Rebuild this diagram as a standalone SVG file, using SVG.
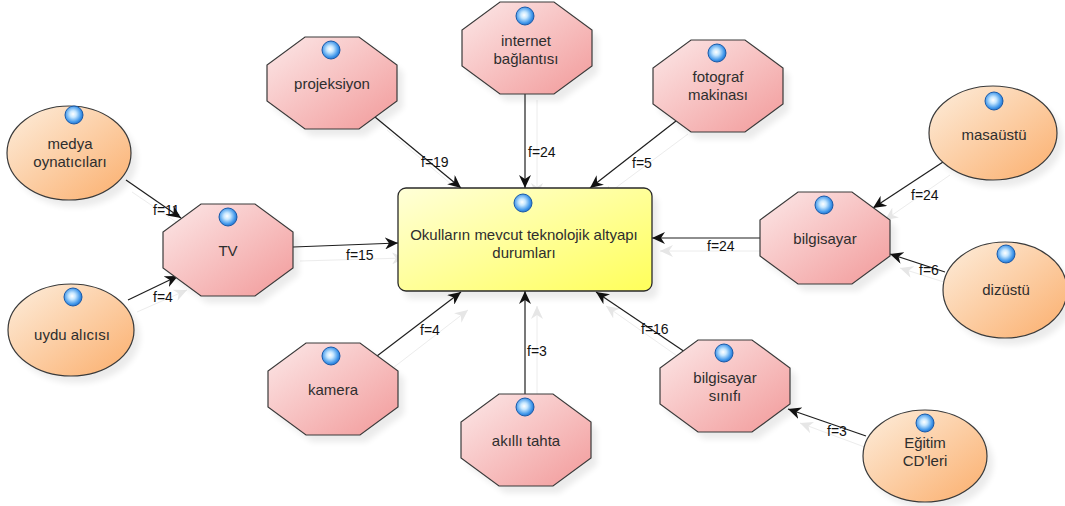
<svg xmlns="http://www.w3.org/2000/svg" width="1065" height="506" viewBox="0 0 1065 506">
  <style>
    .oct { fill: url(#gOct); stroke: #3a3a3a; stroke-width: 1.2; }
    .ell { fill: url(#gEll); stroke: #3a3a3a; stroke-width: 1.2; }
    .main { fill: url(#gMain); stroke: #2a2a2a; stroke-width: 1.3; }
    .sh { fill: #000; opacity: 0.08; filter: url(#blur); }
    .t { font-family: "Liberation Sans", Arial, sans-serif; font-size: 15px; fill: #2e2e2e; text-anchor: middle; }
    .lbl { font-family: "Liberation Sans", Arial, sans-serif; font-size: 14px; fill: #111; }
    .edge { stroke: #1e1e1e; stroke-width: 1.2; fill: none; marker-end: url(#arr); }
    .eshadow { stroke: #ececec; stroke-width: 1; fill: none; marker-end: url(#arrS); }
  </style>
  <defs>
    <linearGradient id="gOct" x1="0" y1="0" x2="1" y2="1">
      <stop offset="0" stop-color="#fce8e8"/>
      <stop offset="1" stop-color="#f29a9a"/>
    </linearGradient>
    <linearGradient id="gEll" x1="0" y1="0" x2="1" y2="1">
      <stop offset="0" stop-color="#fdeedd"/>
      <stop offset="1" stop-color="#fbae6c"/>
    </linearGradient>
    <linearGradient id="gMain" x1="0" y1="0" x2="1" y2="1">
      <stop offset="0" stop-color="#ffffd8"/>
      <stop offset="1" stop-color="#ffff5a"/>
    </linearGradient>
    <radialGradient id="gBall" cx="0.45" cy="0.45" r="0.6">
      <stop offset="0" stop-color="#ffffff"/>
      <stop offset="0.3" stop-color="#c8e8ff"/>
      <stop offset="0.75" stop-color="#3f96ea"/>
      <stop offset="1" stop-color="#1c66c2"/>
    </radialGradient>
    <filter id="blur" x="-20%" y="-20%" width="140%" height="140%">
      <feGaussianBlur stdDeviation="3"/>
    </filter>
    <marker id="arr" markerUnits="userSpaceOnUse" markerWidth="14" markerHeight="12" refX="13" refY="6" orient="auto">
      <path d="M0,0 L13,6 L0,12 L4,6 Z" fill="#111"/>
    </marker>
    <marker id="arrS" markerUnits="userSpaceOnUse" markerWidth="14" markerHeight="12" refX="13" refY="6" orient="auto">
      <path d="M0,0 L13,6 L0,12 L4,6 Z" fill="#e6e6e6"/>
    </marker>
    <circle id="ball" r="9" fill="url(#gBall)" stroke="#1a5aa8" stroke-width="1"/>
    <path id="octShape" d="M38,0 H92 L130,28 V64 L92,92 H38 L0,64 V28 Z"/>
  </defs>

  <!-- faint connector shadows -->
  <g id="connector-shadows">
    <line class="eshadow" x1="387" y1="130" x2="470" y2="200"/>
    <line class="eshadow" x1="537" y1="100" x2="537" y2="196"/>
    <line class="eshadow" x1="688" y1="134" x2="602" y2="198"/>
    <line class="eshadow" x1="950" y1="175" x2="885" y2="220"/>
    <line class="eshadow" x1="765" y1="251" x2="660" y2="251"/>
    <line class="eshadow" x1="950" y1="284" x2="900" y2="268"/>
    <line class="eshadow" x1="690" y1="365" x2="606" y2="306"/>
    <line class="eshadow" x1="870" y1="449" x2="800" y2="423"/>
    <line class="eshadow" x1="537" y1="395" x2="537" y2="306"/>
    <line class="eshadow" x1="389" y1="371" x2="468" y2="310"/>
    <line class="eshadow" x1="300" y1="261" x2="405" y2="258"/>
    <line class="eshadow" x1="132" y1="192" x2="188" y2="230"/>
    <line class="eshadow" x1="137" y1="312" x2="187" y2="290"/>
  </g>

  <!-- node shadows -->
  <g id="shadows">
    <rect class="sh" x="404" y="196" width="254" height="103" rx="8"/>
    <use href="#octShape" class="sh" x="169" y="211"/>
    <use href="#octShape" class="sh" x="273" y="44"/>
    <use href="#octShape" class="sh" x="468" y="9"/>
    <use href="#octShape" class="sh" x="659" y="47"/>
    <use href="#octShape" class="sh" x="766" y="199"/>
    <use href="#octShape" class="sh" x="666" y="347"/>
    <use href="#octShape" class="sh" x="274" y="350"/>
    <use href="#octShape" class="sh" x="467" y="401"/>
    <ellipse class="sh" cx="75" cy="160" rx="62" ry="47"/>
    <ellipse class="sh" cx="77" cy="337" rx="63" ry="46"/>
    <ellipse class="sh" cx="999" cy="140" rx="64" ry="47"/>
    <ellipse class="sh" cx="1011" cy="297" rx="62" ry="48"/>
    <ellipse class="sh" cx="931" cy="463" rx="62" ry="46"/>
  </g>

  <!-- connectors -->
  <g id="connectors">
    <line class="edge" x1="375" y1="117" x2="461" y2="188"/>
    <text class="lbl" x="421" y="167">f=19</text>
    <line class="edge" x1="525" y1="93" x2="525" y2="188"/>
    <text class="lbl" x="528" y="157">f=24</text>
    <line class="edge" x1="676" y1="121" x2="590" y2="188"/>
    <text class="lbl" x="632" y="168">f=5</text>
    <line class="edge" x1="943" y1="162" x2="873" y2="208"/>
    <text class="lbl" x="911" y="200">f=24</text>
    <line class="edge" x1="761" y1="238" x2="652" y2="238"/>
    <text class="lbl" x="707" y="251">f=24</text>
    <line class="edge" x1="945" y1="272" x2="890" y2="254"/>
    <text class="lbl" x="919" y="275">f=6</text>
    <line class="edge" x1="685" y1="352" x2="596" y2="292"/>
    <text class="lbl" x="641" y="334">f=16</text>
    <line class="edge" x1="866" y1="436" x2="788" y2="409"/>
    <text class="lbl" x="827" y="436">f=3</text>
    <line class="edge" x1="525" y1="394" x2="525" y2="291"/>
    <text class="lbl" x="527" y="356">f=3</text>
    <line class="edge" x1="377" y1="356" x2="461" y2="292"/>
    <text class="lbl" x="420" y="335">f=4</text>
    <line class="edge" x1="293" y1="247" x2="398" y2="243"/>
    <text class="lbl" x="346" y="260">f=15</text>
    <line class="edge" x1="126" y1="180" x2="181" y2="218"/>
    <text class="lbl" x="153" y="215">f=11</text>
    <line class="edge" x1="128" y1="300" x2="178" y2="276"/>
    <text class="lbl" x="153" y="302">f=4</text>
  </g>

  <!-- central node -->
  <g id="okul">
    <rect class="main" x="398" y="188" width="254" height="103" rx="8"/>
    <use href="#ball" x="523" y="203"/>
    <text class="t" x="524" y="240">Okulların mevcut teknolojik altyapı</text>
    <text class="t" x="524" y="258">durumları</text>
  </g>

  <g id="tv">
    <use href="#octShape" class="oct" x="163" y="204"/>
    <use href="#ball" x="228" y="217"/>
    <text class="t" x="228" y="256">TV</text>
  </g>

  <g id="projeksiyon">
    <use href="#octShape" class="oct" x="267" y="37"/>
    <use href="#ball" x="331" y="50"/>
    <text class="t" x="332" y="89">projeksiyon</text>
  </g>

  <g id="internet">
    <use href="#octShape" class="oct" x="462" y="2"/>
    <use href="#ball" x="525" y="16"/>
    <text class="t" x="526" y="46">internet</text>
    <text class="t" x="526" y="64">bağlantısı</text>
  </g>

  <g id="fotograf">
    <use href="#octShape" class="oct" x="653" y="40"/>
    <use href="#ball" x="717" y="53"/>
    <text class="t" x="718" y="82">fotograf</text>
    <text class="t" x="718" y="100">makinası</text>
  </g>

  <g id="bilgisayar">
    <use href="#octShape" class="oct" x="760" y="192"/>
    <use href="#ball" x="824" y="205"/>
    <text class="t" x="825" y="244">bilgisayar</text>
  </g>

  <g id="bilgisayar-sinifi">
    <use href="#octShape" class="oct" x="660" y="340"/>
    <use href="#ball" x="724" y="353"/>
    <text class="t" x="725" y="383">bilgisayar</text>
    <text class="t" x="725" y="401">sınıfı</text>
  </g>

  <g id="kamera">
    <use href="#octShape" class="oct" x="268" y="343"/>
    <use href="#ball" x="331" y="356"/>
    <text class="t" x="333" y="395">kamera</text>
  </g>

  <g id="akilli-tahta">
    <use href="#octShape" class="oct" x="461" y="394"/>
    <use href="#ball" x="525" y="407"/>
    <text class="t" x="526" y="446">akıllı tahta</text>
  </g>

  <g id="medya">
    <ellipse class="ell" cx="69" cy="153" rx="62" ry="47"/>
    <use href="#ball" x="74" y="115"/>
    <text class="t" x="70" y="149">medya</text>
    <text class="t" x="70" y="167">oynatıcıları</text>
  </g>

  <g id="uydu">
    <ellipse class="ell" cx="71" cy="330" rx="63" ry="46"/>
    <use href="#ball" x="73" y="297"/>
    <text class="t" x="72" y="340">uydu alıcısı</text>
  </g>

  <g id="masaustu">
    <ellipse class="ell" cx="993" cy="133" rx="64" ry="47"/>
    <use href="#ball" x="994" y="101"/>
    <text class="t" x="994" y="140">masaüstü</text>
  </g>

  <g id="dizustu">
    <ellipse class="ell" cx="1005" cy="290" rx="62" ry="48"/>
    <use href="#ball" x="1006" y="254"/>
    <text class="t" x="1006" y="295">dizüstü</text>
  </g>

  <g id="egitim-cd">
    <ellipse class="ell" cx="925" cy="456" rx="62" ry="46"/>
    <use href="#ball" x="925" y="423"/>
    <text class="t" x="925" y="448">Eğitim</text>
    <text class="t" x="925" y="466">CD'leri</text>
  </g>
</svg>
